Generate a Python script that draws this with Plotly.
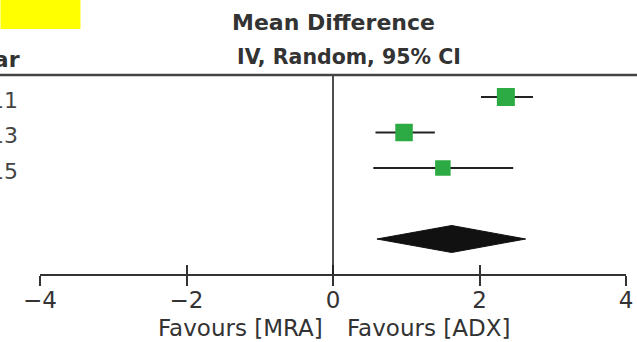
import plotly.graph_objects as go

# Study rows (labels partly out of view on the left edge)
years = ["2011", "2013", "2015"]
md = [2.36, 0.97, 1.50]
ci_low = [2.02, 0.58, 0.55]
ci_high = [2.73, 1.39, 2.46]
box_sizes = [18, 17.5, 15.5]

# Pooled estimate
pooled_md = 1.62
pooled_low = 0.60
pooled_high = 2.63

tick_vals = [-4, -2, 0, 2, 4]
tick_text = ["\u22124", "\u22122", "0", "2", "4"]

rows = list(range(len(years)))
pooled_row = 4
diamond_half = 0.38

FONT = "DejaVu Sans"
LINE = "#222222"
GREEN = "#2caa43"

# Plot-area geometry in pixels (used to place header/footer text in paper units)
W, H = 637, 342
L, R, T, B = 39.5, 11, 75, 68
PW, PH = W - L - R, H - T - B


def px(xp):
    return (xp - L) / PW


def py(yp):
    return (H - B - yp) / PH


fig = go.Figure()

# Confidence interval whiskers + study boxes
fig.add_trace(go.Scatter(
    x=md, y=rows, mode="markers",
    marker=dict(symbol="square", size=box_sizes, color=GREEN, opacity=1,
                line=dict(width=0)),
    error_x=dict(type="data", symmetric=False,
                 array=[h - m for h, m in zip(ci_high, md)],
                 arrayminus=[m - l for m, l in zip(md, ci_low)],
                 color=LINE, thickness=2.2, width=0),
    showlegend=False, hoverinfo="skip",
))

# Pooled diamond
fig.add_trace(go.Scatter(
    x=[pooled_low, pooled_md, pooled_high, pooled_md, pooled_low],
    y=[pooled_row, pooled_row - diamond_half, pooled_row,
       pooled_row + diamond_half, pooled_row],
    mode="lines", fill="toself", fillcolor="#111111",
    line=dict(color="#111111", width=1),
    showlegend=False, hoverinfo="skip",
))

# Invisible trace so the secondary (upward tick) axis is drawn
fig.add_trace(go.Scatter(x=[0], y=[0], xaxis="x2", mode="markers",
                         marker=dict(opacity=0), showlegend=False,
                         hoverinfo="skip"))

# Line of no effect
fig.add_shape(type="line", xref="x", yref="paper", x0=0, x1=0, y0=0, y1=1,
              line=dict(color=LINE, width=1.6))
# Header rule
fig.add_shape(type="line", xref="paper", yref="paper", x0=-0.2, x1=1.2,
              y0=1, y1=1, line=dict(color="#444444", width=2.5))
# Highlight box top-left
fig.add_shape(type="rect", xref="paper", yref="paper",
              x0=px(0), x1=px(80), y0=py(0), y1=py(29),
              fillcolor="#ffff00", line=dict(width=0))

HEAD = dict(size=22, color="#333333", family=FONT, weight="bold")
FOOT = dict(size=23, color="#333333", family=FONT)
ann = [
    dict(text="Mean Difference", x=px(333), y=py(22), xanchor="center",
         font=HEAD),
    dict(text="IV, Random, 95% CI", x=px(349), y=py(57), xanchor="center",
         font=dict(HEAD, size=20.5)),
    dict(text="Year", x=px(21), y=py(59), xanchor="right", font=HEAD),
    dict(text="Favours [MRA]", x=px(325), y=py(328), xanchor="right",
         font=FOOT),
    dict(text="Favours [ADX]", x=px(345), y=py(328), xanchor="left",
         font=FOOT),
]
for r, yr in zip(rows, years):
    ann.append(dict(text=yr, x=px(19), y=py(100 + 35.5 * r), xanchor="right",
                    font=dict(size=22, color="#444444", family=FONT)))
for a in ann:
    a.update(xref="paper", yref="paper", showarrow=False, yanchor="middle")

fig.update_layout(
    width=W, height=H,
    margin=dict(l=L, r=R, t=T, b=B, autoexpand=False),
    paper_bgcolor="white", plot_bgcolor="white",
    annotations=ann,
    xaxis=dict(range=[-4, 4], showgrid=False, zeroline=False, automargin=False,
               showline=True, linecolor="#333333", linewidth=2,
               ticks="outside", ticklen=10, tickwidth=2, tickcolor="#333333",
               tickvals=tick_vals, ticktext=tick_text, ticklabelstandoff=-6,
               tickfont=dict(size=23, color="#333333", family=FONT)),
    xaxis2=dict(range=[-4, 4], overlaying="x", anchor="y", side="bottom",
                automargin=False,
                showgrid=False, zeroline=False, showline=False,
                ticks="inside", ticklen=9, tickwidth=2, tickcolor="#333333",
                tickvals=tick_vals, showticklabels=False),
    yaxis=dict(range=[(274 - 97) / 35.5, (75 - 97) / 35.5], visible=False,
               automargin=False, showgrid=False, zeroline=False),
)

fig.write_html("out.html")
